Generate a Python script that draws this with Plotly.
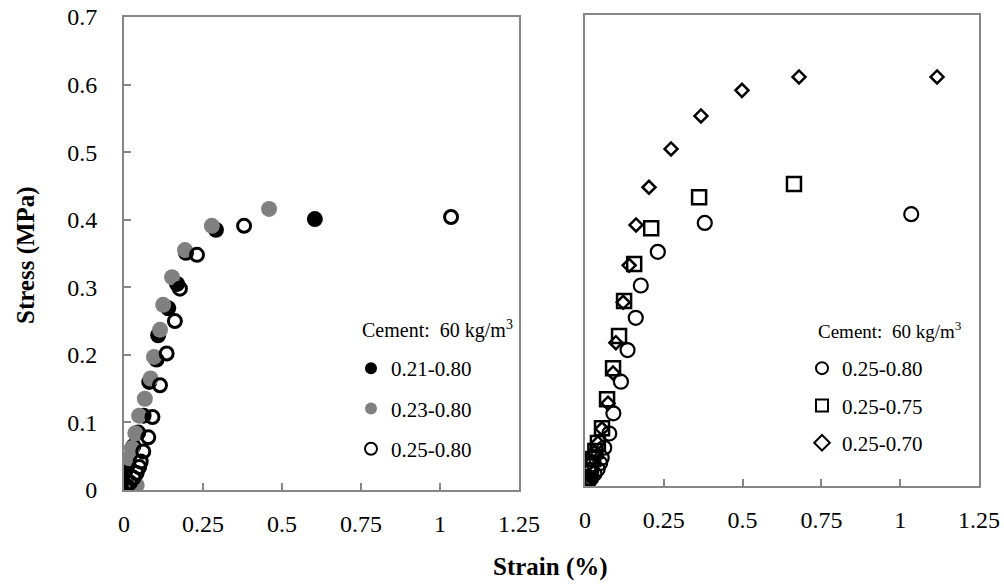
import plotly.graph_objects as go

# ---------------- data ----------------
# Left panel (Cement 60 kg/m3)
strain_021_080 = [0.002, 0.003, 0.015, 0.030, 0.045, 0.062, 0.080, 0.103, 0.108, 0.140, 0.168, 0.196, 0.291, 0.604]
stress_021_080 = [0.004, 0.026, 0.045, 0.065, 0.085, 0.110, 0.160, 0.193, 0.229, 0.269, 0.305, 0.351, 0.385, 0.401]

strain_023_080 = [0.040, 0.016, 0.025, 0.036, 0.048, 0.066, 0.084, 0.095, 0.114, 0.124, 0.152, 0.193, 0.278, 0.459]
stress_023_080 = [0.007, 0.047, 0.062, 0.084, 0.110, 0.135, 0.165, 0.197, 0.237, 0.274, 0.315, 0.355, 0.391, 0.416]

# 0.25-0.80 (shown in both panels)
strain_025_080 = [0.005, 0.009, 0.019, 0.030, 0.040, 0.048, 0.053, 0.061, 0.077, 0.090, 0.114, 0.135, 0.161, 0.177, 0.231, 0.380, 1.035]
stress_025_080 = [0.003, 0.006, 0.011, 0.018, 0.025, 0.034, 0.042, 0.057, 0.078, 0.108, 0.155, 0.202, 0.250, 0.298, 0.348, 0.391, 0.404]

# Right panel
strain_025_075 = [0.003, 0.007, 0.013, 0.019, 0.026, 0.033, 0.041, 0.054, 0.070, 0.089, 0.108, 0.124, 0.156, 0.210, 0.362, 0.663]
stress_025_075 = [0.004, 0.011, 0.019, 0.029, 0.040, 0.052, 0.064, 0.086, 0.129, 0.175, 0.223, 0.275, 0.330, 0.383, 0.429, 0.449]

strain_025_070 = [0.002, 0.005, 0.010, 0.016, 0.022, 0.030, 0.041, 0.054, 0.073, 0.089, 0.098, 0.121, 0.140, 0.162, 0.203, 0.273, 0.368, 0.498, 0.679, 1.117]
stress_025_070 = [0.003, 0.008, 0.016, 0.026, 0.037, 0.050, 0.064, 0.085, 0.123, 0.168, 0.213, 0.273, 0.328, 0.388, 0.444, 0.501, 0.550, 0.588, 0.608, 0.608]

x_ticks = [0, 0.25, 0.5, 0.75, 1, 1.25]
x_tick_text = ["0", "0.25", "0.5", "0.75", "1", "1.25"]
y_ticks = [0, 0.1, 0.2, 0.3, 0.4, 0.5, 0.6, 0.7]
y_tick_text = ["0", "0.1", "0.2", "0.3", "0.4", "0.5", "0.6", "0.7"]

legend_title = "Cement:  60 kg/m<sup>3</sup>"

# ---------------- figure ----------------
FONT = "Liberation Serif"
AX = "#868686"
W, H = 1004, 587


def px(x):   # page x -> paper fraction
    return x / W


def py(y):   # page y -> paper fraction
    return 1 - y / H


fig = go.Figure()

fig.add_trace(go.Scatter(x=strain_021_080, y=stress_021_080, mode="markers", name="0.21-0.80",
                         marker=dict(symbol="circle", size=16, color="black"),
                         xaxis="x", yaxis="y", legend="legend", legendgroup="a"))
fig.add_trace(go.Scatter(x=strain_023_080, y=stress_023_080, mode="markers", name="0.23-0.80",
                         marker=dict(symbol="circle", size=16, color="#808080"),
                         xaxis="x", yaxis="y", legend="legend", legendgroup="b"))
fig.add_trace(go.Scatter(x=strain_025_080, y=stress_025_080, mode="markers", name="0.25-0.80",
                         marker=dict(symbol="circle-open", size=13, color="black", line=dict(width=3)),
                         xaxis="x", yaxis="y", legend="legend", legendgroup="c"))

fig.add_trace(go.Scatter(x=strain_025_080, y=stress_025_080, mode="markers", name="0.25-0.80",
                         marker=dict(symbol="circle-open", size=14, color="black", line=dict(width=2.2)),
                         xaxis="x2", yaxis="y2", legend="legend2", legendgroup="d"))
fig.add_trace(go.Scatter(x=strain_025_075, y=stress_025_075, mode="markers", name="0.25-0.75",
                         marker=dict(symbol="square-open", size=14, color="black", line=dict(width=2.5)),
                         xaxis="x2", yaxis="y2", legend="legend2", legendgroup="e"))
fig.add_trace(go.Scatter(x=strain_025_070, y=stress_025_070, mode="markers", name="0.25-0.70",
                         marker=dict(symbol="diamond-open", size=10, color="black", line=dict(width=2.5)),
                         xaxis="x2", yaxis="y2", legend="legend2", legendgroup="f"))

common_x = dict(range=[0, 1.25], tickvals=x_ticks, ticktext=x_tick_text, showline=True, linecolor=AX,
                linewidth=2, mirror=True, ticks="inside", ticklen=7, tickwidth=2, tickcolor=AX,
                showgrid=False, zeroline=False, automargin=False, ticklabelstandoff=11,
                ticklabeloverflow="allow",
                tickfont=dict(family=FONT, size=24, color="black"))

legend_common = dict(xanchor="left", yanchor="top", bgcolor="rgba(0,0,0,0)",
                     font=dict(family=FONT, size=21, color="black"),
                     itemsizing="constant")

fig.update_layout(
    width=W, height=H,
    margin=dict(l=0, r=0, t=0, b=0),
    paper_bgcolor="white", plot_bgcolor="white",
    font=dict(family=FONT, color="black"),
    xaxis=dict(domain=[px(124), px(519)], anchor="y", **common_x),
    yaxis=dict(domain=[py(490), py(17)], anchor="x", range=[0, 0.7], tickvals=y_ticks,
               ticktext=y_tick_text, showline=True, linecolor=AX, linewidth=2, mirror=True,
               ticks="inside", ticklen=7, tickwidth=2, tickcolor=AX, showgrid=False, zeroline=False,
               automargin=False, ticklabelstandoff=20, ticklabeloverflow="allow",
               tickfont=dict(family=FONT, size=24, color="black")),
    xaxis2=dict(domain=[px(585), px(979)], anchor="y2", **common_x),
    yaxis2=dict(domain=[py(486), py(15)], anchor="x2", range=[0, 0.7], showline=True,
                linecolor=AX, linewidth=2, mirror=True, ticks="", showticklabels=False,
                showgrid=False, zeroline=False, automargin=False),
    legend=dict(x=px(351), y=py(348), tracegroupgap=10, **legend_common),
    legend2=dict(x=px(802), y=py(348), tracegroupgap=7, **legend_common),
    annotations=[
        dict(text=legend_title, x=px(360), y=py(329), xref="paper", yref="paper", xanchor="left",
             yanchor="middle", showarrow=False, font=dict(family=FONT, size=20, color="black")),
        dict(text=legend_title, x=px(816), y=py(330), xref="paper", yref="paper", xanchor="left",
             yanchor="middle", showarrow=False, font=dict(family=FONT, size=19, color="black")),
        dict(text="<b>Strain (%)</b>", x=px(550), y=py(567), xref="paper", yref="paper",
             yanchor="middle", showarrow=False, font=dict(family=FONT, size=25, color="black")),
        dict(text="<b>Stress (MPa)</b>", x=px(26), y=py(255), xref="paper", yref="paper",
             xanchor="center", showarrow=False, textangle=-90,
             font=dict(family=FONT, size=25, color="black")),
    ],
)

# remove the browser's default 8px page margin so the 1004x587 figure fills the window
fig.write_html("out.html", config={"displayModeBar": False},
               post_script="document.body.style.margin='0';document.body.style.overflow='hidden';")
